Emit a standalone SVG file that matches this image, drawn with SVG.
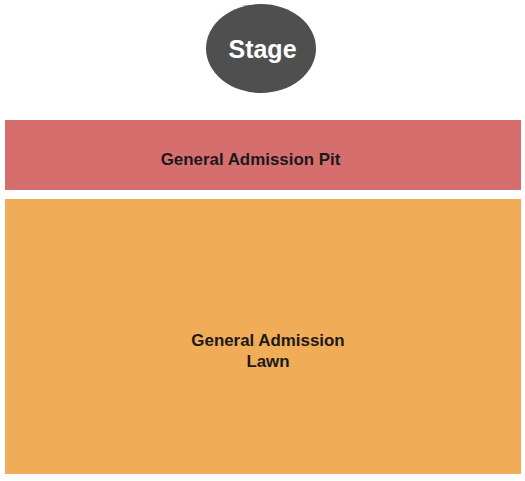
<svg xmlns="http://www.w3.org/2000/svg" width="525" height="481" viewBox="0 0 525 481">
<style>
.lbl{font-family:"Liberation Sans",Arial,sans-serif;font-weight:bold;text-anchor:middle}
.sec{font-size:16.9px;fill:#1a1a1a}
</style>
<rect width="525" height="481" fill="#ffffff"/>
<g id="stage">
<ellipse cx="261" cy="48.5" rx="55" ry="44.5" fill="#4f4f4f"/>
<text class="lbl" x="262.5" y="57.5" font-size="25" fill="#ffffff">Stage</text>
</g>
<g id="pit">
<rect x="5" y="120" width="516" height="70" fill="#d76e6e"/>
<text class="lbl sec" x="250.5" y="164.5">General Admission Pit</text>
</g>
<g id="lawn">
<rect x="5" y="199" width="516" height="275" fill="#f1ac57"/>
<text class="lbl sec" x="268" y="346">General Admission</text>
<text class="lbl sec" x="268" y="367">Lawn</text>
</g>
<g id="connectors"/>
</svg>
